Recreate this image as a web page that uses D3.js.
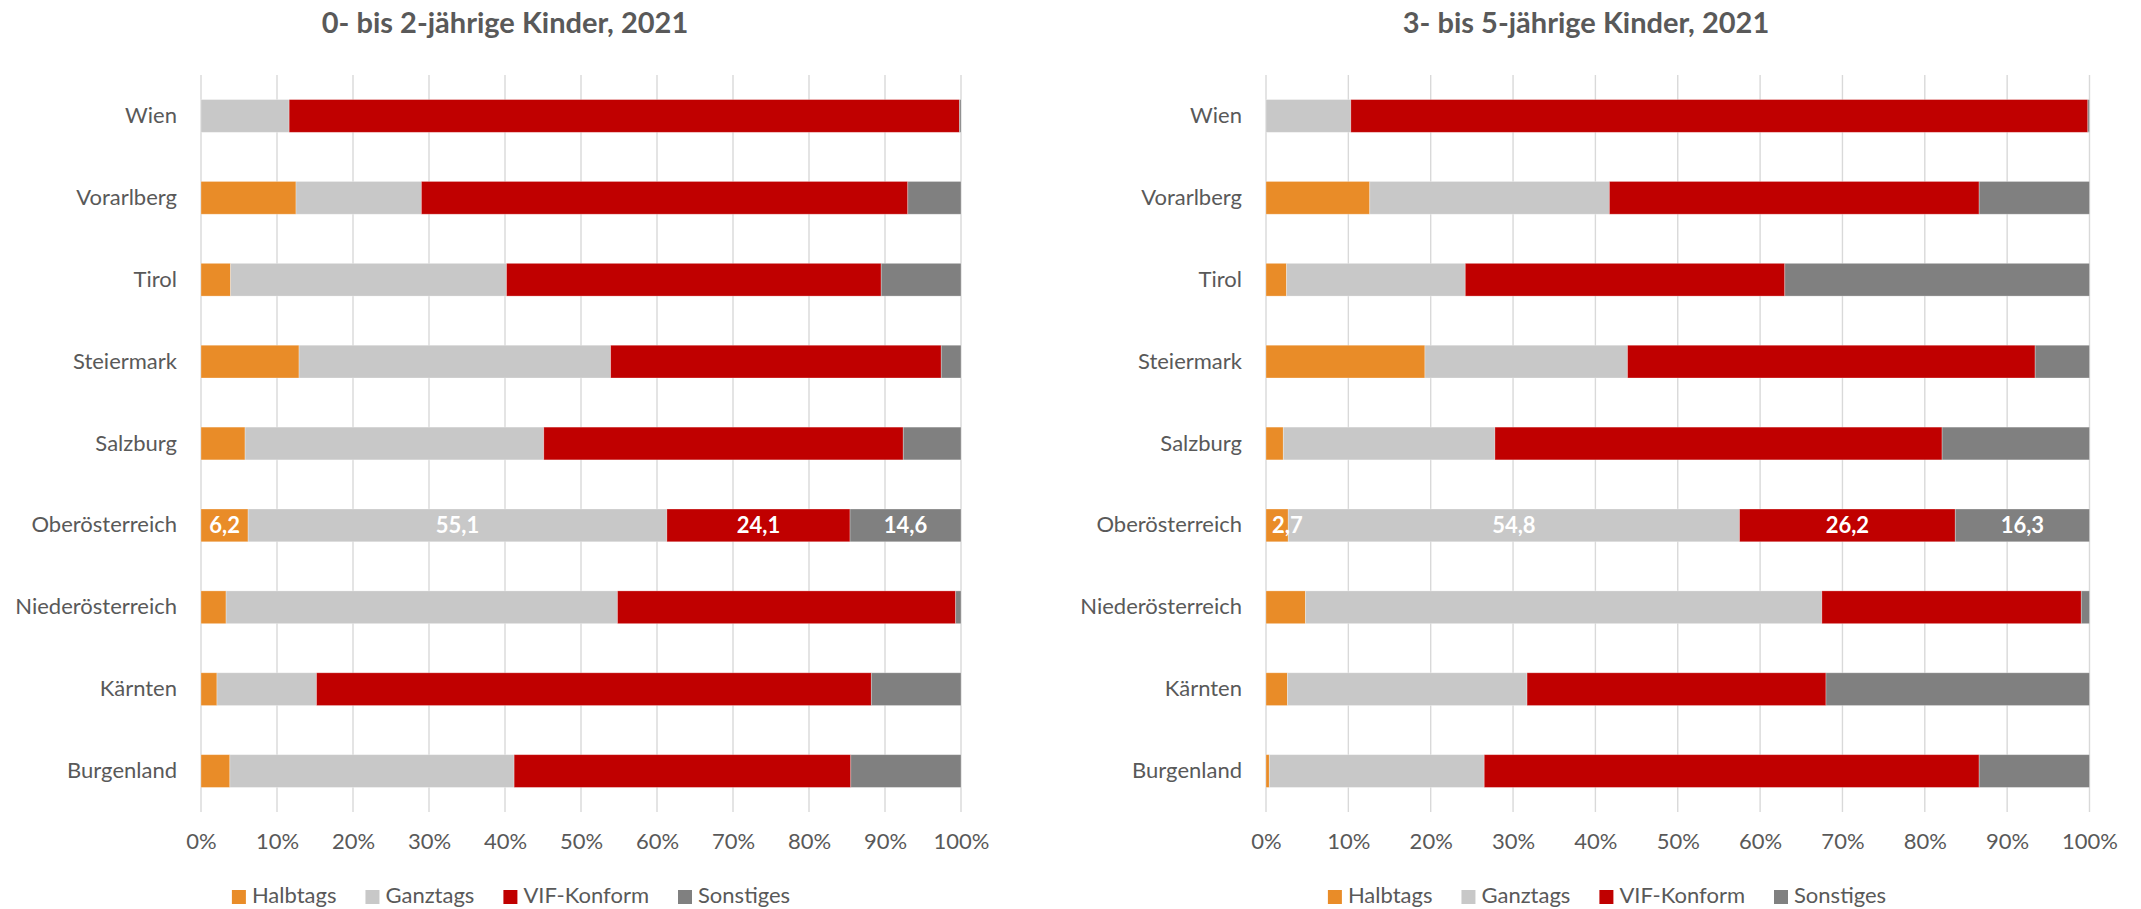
<!DOCTYPE html>
<html>
<head>
<meta charset="utf-8">
<script src="https://cdnjs.cloudflare.com/ajax/libs/d3/7.8.5/d3.min.js"></script>
<style>
  body { margin: 0; background: #fff; }
  svg text { font-family: Lato, "Open Sans", sans-serif; fill: #595959; }
</style>
</head>
<body>
<svg class="chart" width="2141" height="909"></svg>
<script>
// Kinderbetreuung nach Öffnungszeiten, Anteile in %
var categories = ["Wien", "Vorarlberg", "Tirol", "Steiermark", "Salzburg",
                  "Oberösterreich", "Niederösterreich", "Kärnten", "Burgenland"];
var seriesNames = ["Halbtags", "Ganztags", "VIF-Konform", "Sonstiges"];
var ticks = [0, 10, 20, 30, 40, 50, 60, 70, 80, 90, 100];

// 0- bis 2-jährige
var halbtags02 = [0.0, 12.5, 3.9, 12.9, 5.8, 6.2, 3.3, 2.1, 3.8];
var ganztags02 = [11.6, 16.5, 36.3, 41.0, 39.3, 55.1, 51.5, 13.1, 37.4];
var vif02      = [88.2, 64.0, 49.3, 43.5, 47.3, 24.1, 44.5, 73.0, 44.3];
var sonst02    = [0.2, 7.0, 10.5, 2.6, 7.6, 14.6, 0.7, 11.8, 14.5];

// 3- bis 5-jährige
var halbtags35 = [0.0, 12.6, 2.5, 19.3, 2.1, 2.7, 4.8, 2.6, 0.4];
var ganztags35 = [10.3, 29.1, 21.7, 24.6, 25.7, 54.8, 62.7, 29.1, 26.1];
var vif35      = [89.5, 44.9, 38.8, 49.5, 54.3, 26.2, 31.5, 36.3, 60.1];
var sonst35    = [0.2, 13.4, 37.0, 6.6, 17.9, 16.3, 1.0, 32.0, 13.4];

var labelled = ["Oberösterreich"];

var colors = ["#E98C28", "#C8C8C8", "#C00000", "#808080"];

var svg = d3.select("svg.chart");
var de = d3.formatLocale({decimal: ",", thousands: ".", grouping: [3], currency: ["", " €"]});
var fmt = de.format(".1f");

function buildRows(cols){
    return categories.map(function(c,i){
        var row = {cat: c};
        seriesNames.forEach(function(s,j){ row[s] = cols[j][i]; });
        return row;
    });
}

function drawPanel(opt){
    var g = svg.append("g");
    var rows = buildRows(opt.cols);

    var x = d3.scaleLinear().domain([0,100]).range([opt.x0, opt.x1]);
    var y = d3.scaleBand().domain(categories).range([75, 812])
        .paddingInner(0.6).paddingOuter(0.3);

    // title
    g.append("text")
        .attr("x", opt.titleX)
        .attr("y", 33)
        .attr("text-anchor", "middle")
        .style("font-size", "29px")
        .style("font-weight", "bold")
        .text(opt.title);

    // gridlines
    g.append("g")
        .selectAll("line")
        .data(ticks)
        .enter().append("line")
        .attr("x1", function(d){ return x(d); })
        .attr("x2", function(d){ return x(d); })
        .attr("y1", 75)
        .attr("y2", 812)
        .attr("stroke", "#D9D9D9")
        .attr("stroke-width", 1.4);

    // x axis labels
    var xAxis = d3.axisBottom(x).tickValues(ticks)
        .tickFormat(function(d){ return d + "%"; })
        .tickSize(0).tickPadding(0);
    var ax = g.append("g").attr("transform", "translate(0,833)").call(xAxis);
    ax.select(".domain").remove();
    ax.selectAll("text")
        .attr("dy", "0.71em")
        .style("font-size", "22px")
        .style("fill", "#595959")
        .style("font-family", "Lato, sans-serif");

    // y axis labels
    var yAxis = d3.axisLeft(y).tickSize(0).tickPadding(24);
    var ay = g.append("g").attr("transform", "translate(" + opt.x0 + ",0)").call(yAxis);
    ay.select(".domain").remove();
    ay.selectAll("text")
        .style("font-size", "22px")
        .style("fill", "#595959")
        .style("font-family", "Lato, sans-serif");

    // stacked bars
    var stack = d3.stack().keys(seriesNames)(rows);
    var layer = g.append("g")
        .selectAll("g")
        .data(stack)
        .enter().append("g")
        .attr("fill", function(d,i){ return colors[i]; });

    layer.selectAll("rect")
        .data(function(d){ return d; })
        .enter().append("rect")
        .attr("x", function(d){ return x(d[0]); })
        .attr("y", function(d){ return y(d.data.cat); })
        .attr("width", function(d){ return Math.max(0, x(d[1]) - x(d[0])); })
        .attr("height", y.bandwidth())
        .attr("stroke", "#fff")
        .attr("stroke-opacity", 0.35)
        .attr("stroke-width", 0.8);

    // data labels for one row, on top of all bars
    var pts = [];
    stack.forEach(function(s){
        s.forEach(function(p){ if(labelled.indexOf(p.data.cat) >= 0) pts.push(p); });
    });
    g.append("g")
        .selectAll("text")
        .data(pts)
        .enter().append("text")
        .attr("y", function(d){ return y(d.data.cat) + y.bandwidth()/2; })
        .attr("dy", "0.36em")
        .attr("text-anchor", "middle")
        .style("font-size", "22px")
        .style("font-weight", "bold")
        .style("fill", "#fff")
        .text(function(d){ return fmt(d[1] - d[0]); })
        .attr("x", function(d){
            var cx = (x(d[0]) + x(d[1]))/2;
            var w = this.getComputedTextLength();
            return Math.max(cx, opt.x0 + w/2 + 6);
        });

    // legend
    var lg = g.append("g");
    var items = lg.selectAll("g")
        .data(seriesNames)
        .enter().append("g");
    items.append("rect")
        .attr("width", 14)
        .attr("height", 14)
        .attr("y", 890)
        .attr("fill", function(d,i){ return colors[i]; });
    items.append("text")
        .attr("x", 20)
        .attr("y", 903)
        .style("font-size", "22px")
        .text(function(d){ return d; });
    var pos = 0;
    items.each(function(){
        var w = d3.select(this).select("text").node().getComputedTextLength();
        d3.select(this).attr("data-x", pos);
        pos += 20 + w + 29;
    });
    var total = pos - 29;
    items.attr("transform", function(){
        return "translate(" + (opt.legendX - total/2 + (+this.getAttribute("data-x"))) + ",0)";
    });
}

drawPanel({
    title: "0- bis 2-jährige Kinder, 2021",
    titleX: 505,
    x0: 201, x1: 961,
    legendX: 511,
    cols: [halbtags02, ganztags02, vif02, sonst02]
});

drawPanel({
    title: "3- bis 5-jährige Kinder, 2021",
    titleX: 1586,
    x0: 1266, x1: 2089.5,
    legendX: 1607,
    cols: [halbtags35, ganztags35, vif35, sonst35]
});
</script>
</body>
</html>
